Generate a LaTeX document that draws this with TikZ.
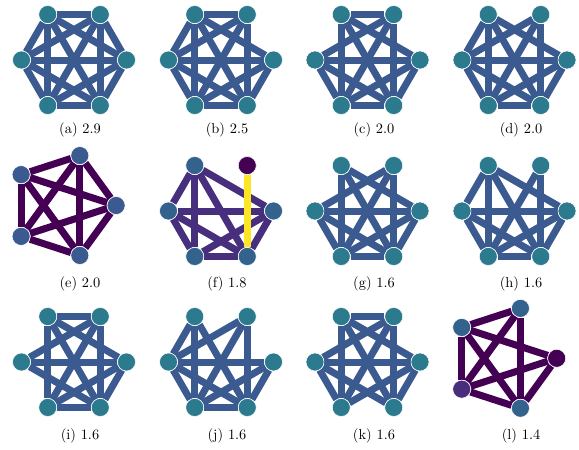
\documentclass[tikz,border=0pt]{standalone}
\usetikzlibrary{calc}
\pgfdeclarelayer{bg}
\pgfsetlayers{bg,main}
\definecolor{edgeblue}{HTML}{3B5A8F}
\definecolor{nodeteal}{HTML}{2C7A8E}
\definecolor{vdark}{HTML}{440154}
\definecolor{vpurple}{HTML}{472F7D}
\definecolor{vblue}{HTML}{33638D}
\definecolor{vblueb}{HTML}{3B5A8F}
\definecolor{vmid}{HTML}{472D7B}
\definecolor{vyellow}{HTML}{FDE725}
\tikzset{
  x=0.75pt, y=-0.75pt,
  vtx/.style={circle, draw=white, line width=0.4pt, minimum size=13.5pt, inner sep=0pt, fill=#1},
  gedge/.style={line width=5.25pt, draw=#1},
  captxt/.style={font=\fontsize{10.8}{12}\selectfont, anchor=base}
}
\newcommand\hexnodes[4]{%
  \foreach \i/\a in {1/0,2/60,3/120,4/180,5/240,6/300}
    \node[vtx=#4] (#1\i) at ({#2+52.5*cos(\a)},{#3-52.5*sin(\a)}) {};
}
\newcommand\pentcoords[3]{%
  \foreach \i/\a in {1/0,2/72,3/144,4/216,5/288}
    \coordinate (#1c\i) at ({#2+52.5*cos(\a)},{#3-52.5*sin(\a)});
}
\newcommand\gedges[3]{%
  \begin{pgfonlayer}{bg}
  \foreach \u/\v in {#3} \draw[gedge=#2] (#1\u) -- (#1\v);
  \end{pgfonlayer}
}
\begin{document}
\begin{tikzpicture}
\useasboundingbox (0,0) rectangle (579,450);
\begin{pgfonlayer}{bg}
\fill[white] (0,0) rectangle (579,450);
\end{pgfonlayer}
% row 1
\hexnodes{a}{74}{60}{nodeteal}
\gedges{a}{edgeblue}{1/2,1/3,1/4,1/5,1/6,2/3,2/4,2/5,2/6,3/4,3/5,3/6,4/5,4/6,5/6}
\hexnodes{b}{221}{60}{nodeteal}
\gedges{b}{edgeblue}{1/3,1/4,1/5,1/6,2/3,2/4,2/5,2/6,3/4,3/5,3/6,4/5,4/6,5/6}
\hexnodes{c}{367.5}{60}{nodeteal}
\gedges{c}{edgeblue}{1/3,1/4,1/5,1/6,2/3,2/4,2/5,2/6,3/5,3/6,4/5,4/6,5/6}
\hexnodes{d}{514.5}{60}{nodeteal}
\gedges{d}{edgeblue}{1/3,1/4,1/5,1/6,2/4,2/5,2/6,3/4,3/5,3/6,4/5,4/6,5/6}
% row 2
\pentcoords{e}{63.6}{205.5}
\foreach \i in {1,...,5} \node[vtx=vblueb] (e\i) at (ec\i) {};
\gedges{e}{vdark}{1/2,1/3,1/4,1/5,2/3,2/4,2/5,3/4,3/5,4/5}
\hexnodes{f}{221}{211}{vblue}
\node[vtx=vdark] at (f2) {};
\gedges{f}{vpurple}{1/3,1/4,1/5,1/6,3/4,3/5,3/6,4/5,4/6,5/6}
\gedges{f}{vyellow}{2/6}
\hexnodes{g}{367.5}{211}{nodeteal}
\gedges{g}{edgeblue}{1/3,1/4,1/5,1/6,2/4,2/5,2/6,3/5,3/6,4/5,4/6,5/6}
\hexnodes{h}{514.5}{211}{nodeteal}
\gedges{h}{edgeblue}{1/3,1/4,1/5,1/6,2/5,2/6,3/4,3/5,3/6,4/5,4/6,5/6}
% row 3
\hexnodes{i}{74}{362}{nodeteal}
\gedges{i}{edgeblue}{1/3,1/4,1/5,1/6,2/3,2/4,2/5,2/6,3/5,3/6,4/6,5/6}
\hexnodes{j}{221}{362}{nodeteal}
\gedges{j}{edgeblue}{1/4,1/5,1/6,2/4,2/5,2/6,3/4,3/5,3/6,4/5,4/6,5/6}
\hexnodes{k}{367.5}{362}{nodeteal}
\gedges{k}{edgeblue}{1/3,1/4,1/5,1/6,2/3,2/4,2/5,2/6,3/5,3/6,4/5,4/6}
\pentcoords{l}{504.2}{358.3}
\node[vtx=vdark] (l1) at (lc1) {};
\node[vtx=vblue] (l2) at (lc2) {};
\node[vtx=vblue] (l3) at (lc3) {};
\node[vtx=vmid] (l4) at (lc4) {};
\node[vtx=vblue] (l5) at (lc5) {};
\gedges{l}{vdark}{1/3,1/4,1/5,2/3,2/4,2/5,3/4,3/5,4/5}
% captions
\node[captxt] (ta) at (80,133) {(a) 2.9};
\node[captxt] (tb) at (227,133) {(b) 2.5};
\node[captxt] (tc) at (374,133) {(c) 2.0};
\node[captxt] (td) at (521,133) {(d) 2.0};
\node[captxt] (te) at (80,287) {(e) 2.0};
\node[captxt] (tf) at (227,287) {(f) 1.8};
\node[captxt] (tg) at (374,287) {(g) 1.6};
\node[captxt] (th) at (521,287) {(h) 1.6};
\node[captxt] (ti) at (80,439) {(i) 1.6};
\node[captxt] (tj) at (227,439) {(j) 1.6};
\node[captxt] (tk) at (374,439) {(k) 1.6};
\node[captxt] (tl) at (521,439) {(l) 1.4};
\end{tikzpicture}
\end{document}
